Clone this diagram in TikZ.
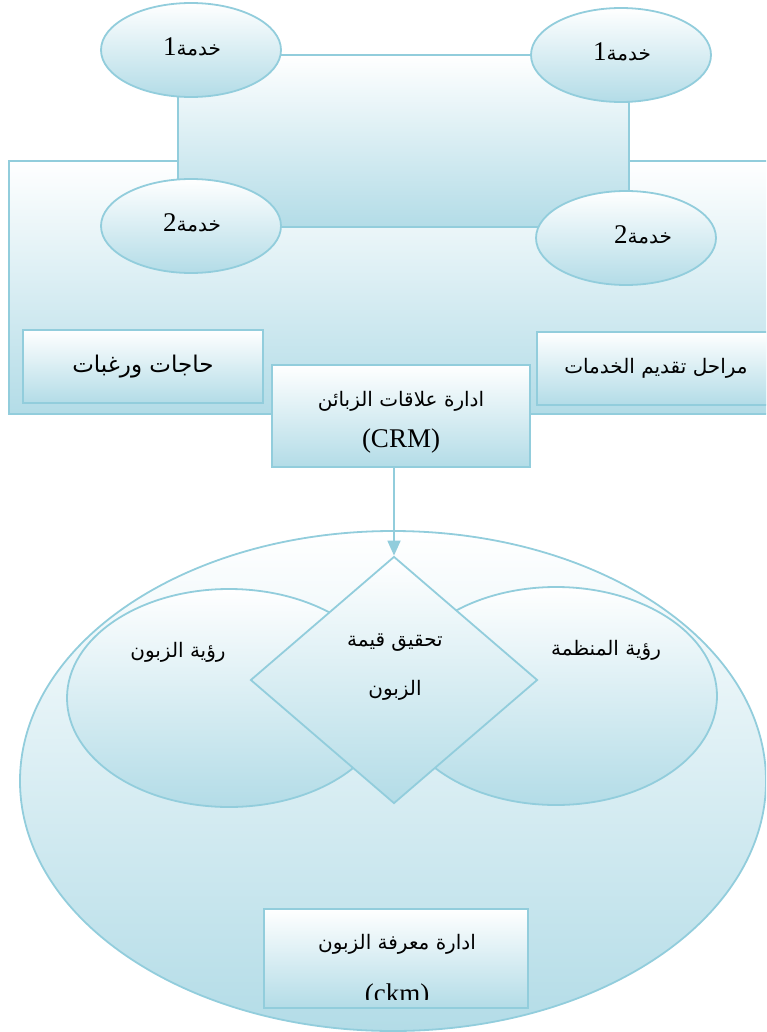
\documentclass[tikz,border=0pt]{standalone}
\usepackage{fontspec}
\setmainfont{Liberation Serif}
\newfontfamily\latinfont{Liberation Serif}
\newfontfamily\arabicfont[Script=Arabic]{DejaVu Sans}
\TeXXeTstate=1
\usetikzlibrary{shapes.geometric,arrows.meta,calc}
\definecolor{edge}{HTML}{92CDDC}
\definecolor{deep}{HTML}{B3DCE7}
% Arabic run, right to left
\newcommand{\ar}[2][20]{{\arabicfont\fontsize{#1}{#1}\selectfont\beginR #2\endR}}
\newcommand{\lat}[1]{{\latinfont\fontsize{27}{30}\selectfont #1}}
\tikzset{
  panel/.style={draw=edge, line width=1.8pt, top color=white, bottom color=deep,
                inner sep=0pt, rectangle},
  blob/.style={panel, ellipse},
  caption/.style={inner sep=0pt, align=center, text=black},
}
\begin{document}
\begin{tikzpicture}[x=1pt, y=-1pt]
  \useasboundingbox (0,0) rectangle (766,1032);
  \clip (0,0) rectangle (766,1032);

  % services frame
  \node[panel, anchor=north west, minimum width=800, minimum height=253] (frame) at (8,160) {};
  \node[panel, anchor=north west, minimum width=451, minimum height=172] (core) at (177,54) {};

  \node[blob, minimum width=180, minimum height=94] (s1a) at (191,50) {};
  \node[blob, minimum width=180, minimum height=94] (s1b) at (621,55) {};
  \node[blob, minimum width=180, minimum height=94] (s2a) at (191,226) {};
  \node[blob, minimum width=180, minimum height=94] (s2b) at (626,238) {};
  \node[caption] (s1atext) at (192,47) {\ar{خدمة\lat{1}}};
  \node[caption] (s1btext) at (622,52) {\ar{خدمة\lat{1}}};
  \node[caption] (s2atext) at (192,223) {\ar{خدمة\lat{2}}};
  \node[caption] (s2btext) at (643,235) {\ar{خدمة\lat{2}}};

  \node[panel, anchor=north west, minimum width=240, minimum height=73] (needs) at (22,329) {\ar[23]{حاجات ورغبات}};
  \node[panel, anchor=north west, minimum width=238, minimum height=73] (stages) at (536,331) {\ar{مراحل تقديم الخدمات}};
  \node[panel, minimum width=258, minimum height=102] (crm) at (401,416) {};
  \node[caption] (crmtext) at (401,401) {\ar{ادارة علاقات الزبائن}};
  \node[caption] (crmabbr) at (401,441) {\lat{(CRM)}};

  % knowledge management
  \node[blob, minimum width=746, minimum height=500] (ckm) at (393,781) {};
  \node[blob, minimum width=324, minimum height=218] (cview) at (229,698) {};
  \node[blob, minimum width=322, minimum height=218] (oview) at (556,696) {};
  \node[panel, diamond, minimum width=287, minimum height=247] (value) at (394,680) {};

  \node[caption] (cviewtext) at (178,652) {\ar{رؤية الزبون}};
  \node[caption] (oviewtext) at (606,650) {\ar{رؤية المنظمة}};
  \node[caption] (valuetext) at (395,643) {\ar{تحقيق قيمة}};
  \node[caption] (valuetext2) at (395,690) {\ar{الزبون}};

  \node[panel, minimum width=264, minimum height=99] (kbox) at (396,958.5) {};
  \node[caption] (kboxtext) at (397,944) {\ar{ادارة معرفة الزبون}};
  \begin{scope}
    \clip ($(kbox.north west)+(3,3)$) rectangle ($(kbox.south east)+(-3,-9)$);
    \node[caption] (kboxabbr) at (397,996) {\lat{(ckm)}};
  \end{scope}

  \draw[draw=edge, line width=1.8pt, -{Triangle[width=13pt,length=15pt]}, edge]
    (crm.south -| value.north) -- (value.north);
\end{tikzpicture}
\end{document}
